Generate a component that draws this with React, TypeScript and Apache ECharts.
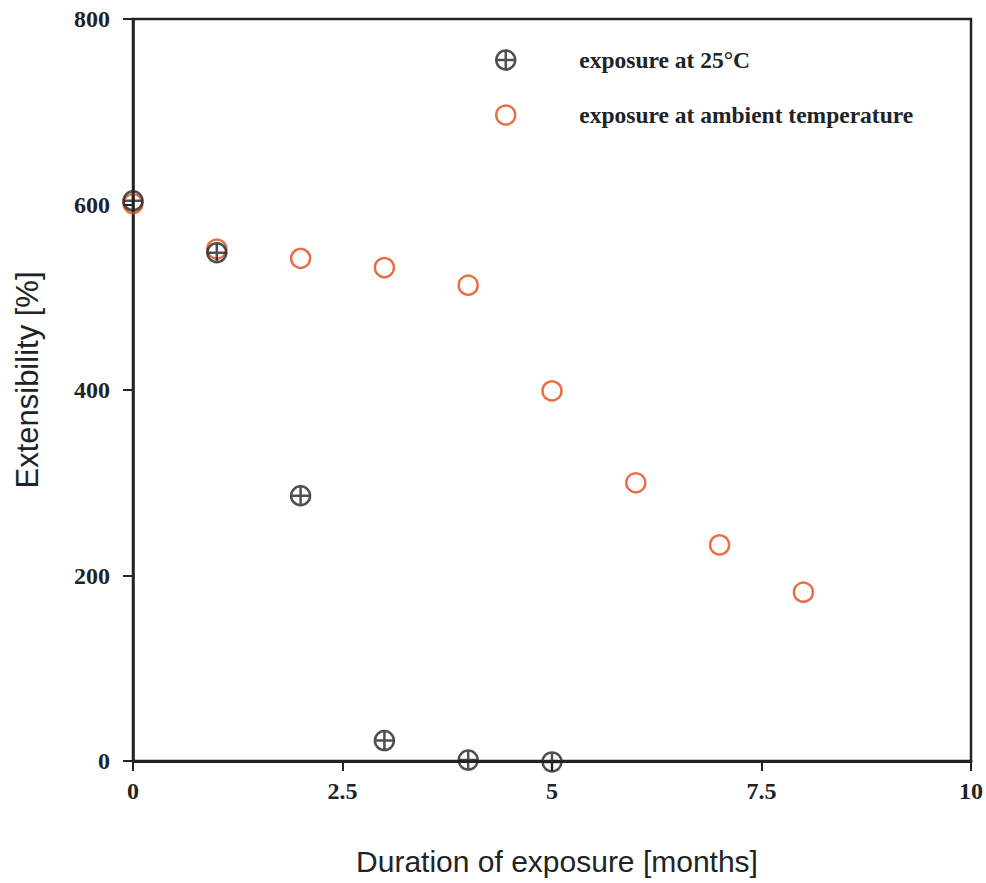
import React, { useEffect, useRef } from "react";
import * as echarts from "echarts";

const months = [0, 1, 2, 3, 4, 5, 6, 7, 8];
const at25C = [604, 548, 286, 22, 1, -1];
const ambient = [601, 552, 542, 532, 513, 399, 300, 233, 182];
const xTicks = [0, 2.5, 5, 7.5, 10];
const yTicks = [0, 200, 400, 600, 800];

const DARK = "#202426";
const ORANGE = "#e24a17";
const CROSS_CIRCLE =
  "path://M10,0A10,10,0,1,1,10,20A10,10,0,1,1,10,0ZM0,10L20,10M10,0L10,20";

export default function App() {
  const ref = useRef<HTMLDivElement>(null);
  useEffect(() => {
    if (!ref.current) return;
    const chart = echarts.init(ref.current, undefined, { renderer: "svg" });
    const pts = (vals: number[]) => vals.map((v, i) => [months[i], v]);
    chart.setOption({
      animation: false,
      backgroundColor: "#ffffff",
      grid: {
        left: 133,
        right: 14,
        top: 19,
        bottom: 122,
        show: true,
        borderColor: DARK,
        borderWidth: 2.5,
      },
      legend: {
        orient: "vertical",
        left: 490,
        top: 43,
        itemWidth: 19,
        itemHeight: 19,
        itemGap: 31,
        textStyle: {
          fontFamily: "Liberation Serif",
          fontWeight: "bold",
          fontSize: 23.5,
          color: DARK,
          padding: [0, 0, 0, 59],
        },
        data: [
          {
            name: "exposure at 25°C",
            icon: CROSS_CIRCLE,
            itemStyle: { color: "transparent", borderColor: DARK, borderWidth: 2.5 },
          },
          {
            name: "exposure at ambient temperature",
            icon: "circle",
            itemStyle: { color: "transparent", borderColor: ORANGE, borderWidth: 2.5 },
          },
        ],
      },
      xAxis: {
        type: "value",
        min: xTicks[0],
        max: xTicks[xTicks.length - 1],
        interval: xTicks[1] - xTicks[0],
        splitLine: { show: false },
        axisLine: { show: true, lineStyle: { color: DARK, width: 3 } },
        axisTick: { show: true, inside: false, length: 10, lineStyle: { color: DARK, width: 2 } },
        axisLabel: {
          margin: 18,
          fontFamily: "Liberation Serif",
          fontWeight: "bold",
          fontSize: 24,
          color: DARK,
        },
        name: "Duration of exposure [months]",
        nameLocation: "middle",
        nameGap: 85,
        nameTextStyle: {
          fontFamily: "Liberation Sans",
          fontSize: 30,
          color: DARK,
          padding: [0, 0, 0, 10],
        },
      },
      yAxis: {
        type: "value",
        min: yTicks[0],
        max: yTicks[yTicks.length - 1],
        interval: yTicks[1] - yTicks[0],
        splitLine: { show: false },
        axisLine: { show: true, lineStyle: { color: DARK, width: 2.5 } },
        axisTick: { show: true, inside: false, length: 10, lineStyle: { color: DARK, width: 2 } },
        axisLabel: {
          margin: 23,
          fontFamily: "Liberation Serif",
          fontWeight: "bold",
          fontSize: 24,
          color: DARK,
        },
        name: "Extensibility [%]",
        nameLocation: "middle",
        nameGap: 90,
        nameTextStyle: {
          fontFamily: "Liberation Sans",
          fontSize: 31,
          color: DARK,
          padding: [0, 0, 0, 20],
        },
      },
      series: [
        {
          name: "exposure at ambient temperature",
          type: "scatter",
          symbol: "circle",
          symbolSize: 19,
          clip: false,
          itemStyle: { color: "transparent", borderColor: ORANGE, borderWidth: 2.5 },
          data: pts(ambient),
          z: 2,
        },
        {
          name: "exposure at 25°C",
          type: "scatter",
          symbol: CROSS_CIRCLE,
          symbolSize: 19,
          clip: false,
          itemStyle: { color: "transparent", borderColor: DARK, borderWidth: 2.5 },
          data: pts(at25C),
          z: 3,
        },
      ],
    });
    return () => chart.dispose();
  }, []);
  return <div ref={ref} style={{ width: 986, height: 883, position: "absolute", left: 0, top: 0 }} />;
}
